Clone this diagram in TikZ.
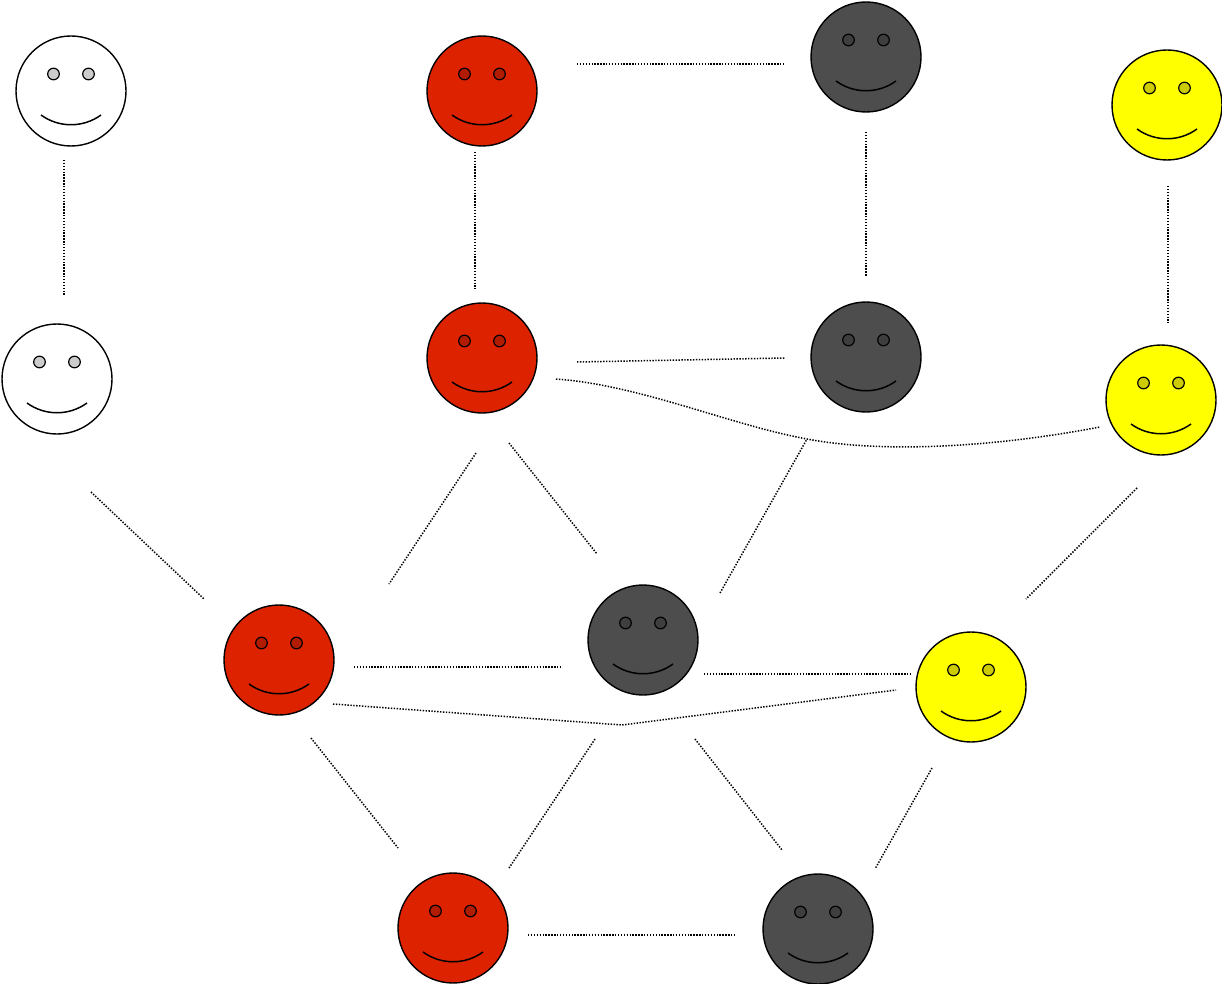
\documentclass[tikz,border=0pt]{standalone}
\definecolor{fred}{HTML}{DD2200}
\definecolor{fgrey}{HTML}{4D4D4D}
\definecolor{fyellow}{HTML}{FFFF00}
\definecolor{fwhite}{HTML}{FFFFFF}
\tikzset{
  face/.style={circle, draw=black, line width=1.4pt, minimum size=110pt, inner sep=0pt, fill=#1,
    path picture={
      \begin{scope}[shift={(path picture bounding box.center)}]
        \draw[line width=1.2pt, fill=#1!80!black] (-17.5,-17) circle[radius=5.8pt];
        \draw[line width=1.2pt, fill=#1!80!black] (17.5,-17) circle[radius=5.8pt];
        \draw[line width=1.5pt] (-30,24) .. controls (-12,37) and (12,37) .. (30,24);
      \end{scope}
    }},
  link/.style={line width=1.5pt, dash pattern=on 1.4pt off 1.5pt}
}
\begin{document}
\begin{tikzpicture}[x=1pt,y=-1pt]
\useasboundingbox (0,0) rectangle (1222,984);
% faces
\node[face=fwhite]  (w1) at (71,91) {};
\node[face=fred]    (r1) at (482,91) {};
\node[face=fgrey]   (g1) at (866,57) {};
\node[face=fyellow] (y1) at (1167,105) {};
\node[face=fwhite]  (w2) at (57,379) {};
\node[face=fred]    (r2) at (482,358) {};
\node[face=fgrey]   (g2) at (866,357) {};
\node[face=fyellow] (y2) at (1161,400) {};
\node[face=fred]    (r3) at (279,660) {};
\node[face=fgrey]   (g3) at (643,640) {};
\node[face=fyellow] (y3) at (971,687) {};
\node[face=fred]    (r4) at (453,928) {};
\node[face=fgrey]   (g4) at (818,929) {};
% link end points
\coordinate (a1) at (64,160);   \coordinate (a2) at (64,296);
\coordinate (b1) at (475,152);  \coordinate (b2) at (475,289);
\coordinate (c1) at (577,64);   \coordinate (c2) at (785,64);
\coordinate (d1) at (866,132);  \coordinate (d2) at (866,276);
\coordinate (e1) at (1168,186); \coordinate (e2) at (1168,323);
\coordinate (f1) at (577,362);  \coordinate (f2) at (785,358);
\coordinate (h1) at (556,379);  \coordinate (h2) at (807,439); \coordinate (h3) at (1100,427);
\coordinate (i1) at (720,593);
\coordinate (j1) at (91,492);   \coordinate (j2) at (204,599);
\coordinate (k1) at (476,453);  \coordinate (k2) at (389,584);
\coordinate (l1) at (509,443);  \coordinate (l2) at (597,554);
\coordinate (m1) at (1137,488); \coordinate (m2) at (1026,599);
\coordinate (n1) at (354,667);  \coordinate (n2) at (561,667);
\coordinate (o1) at (704,674);  \coordinate (o2) at (911,674);
\coordinate (p1) at (333,704);  \coordinate (p2) at (622,725); \coordinate (p3) at (896,690);
\coordinate (q1) at (311,738);  \coordinate (q2) at (398,848);
\coordinate (s1) at (595,739);  \coordinate (s2) at (509,868);
\coordinate (t1) at (695,739);  \coordinate (t2) at (782,850);
\coordinate (u1) at (932,768);  \coordinate (u2) at (875,869);
\coordinate (v1) at (528,935);  \coordinate (v2) at (736,935);
% links
\draw[link] (a1) -- (a2);
\draw[link] (b1) -- (b2);
\draw[link] (c1) -- (c2);
\draw[link] (d1) -- (d2);
\draw[link] (e1) -- (e2);
\draw[link] (f1) -- (f2);
\draw[link] (h1) .. controls (640,385) and (730,425) .. (h2) .. controls (880,453) and (990,448) .. (h3);
\draw[link] (i1) -- (h2);
\draw[link] (j1) -- (j2);
\draw[link] (k1) -- (k2);
\draw[link] (l1) -- (l2);
\draw[link] (m1) -- (m2);
\draw[link] (n1) -- (n2);
\draw[link] (o1) -- (o2);
\draw[link] (p1) -- (p2) -- (p3);
\draw[link] (q1) -- (q2);
\draw[link] (s1) -- (s2);
\draw[link] (t1) -- (t2);
\draw[link] (u1) -- (u2);
\draw[link] (v1) -- (v2);
\end{tikzpicture}
\end{document}
